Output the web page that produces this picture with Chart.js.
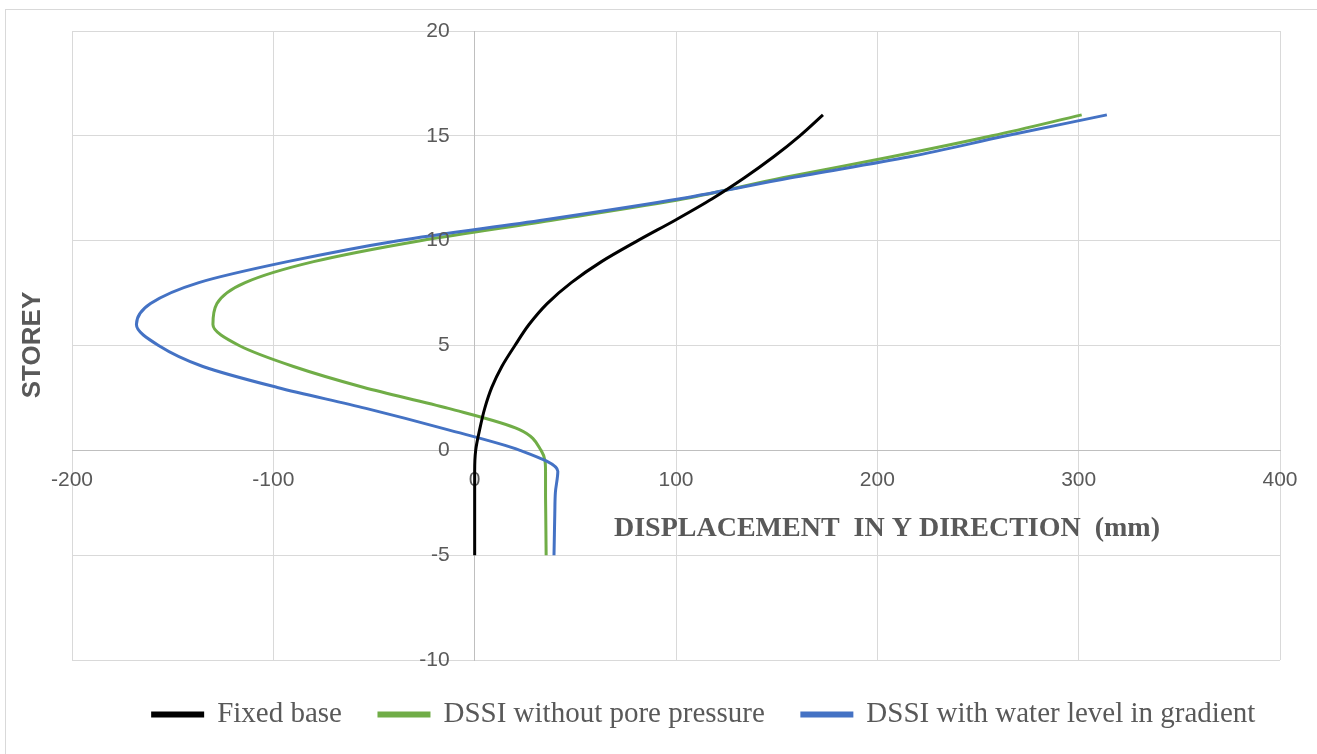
<!DOCTYPE html>
<html>
<head>
<meta charset="utf-8">
<script src="https://cdn.jsdelivr.net/npm/chart.js@4.4.1/dist/chart.umd.min.js"></script>
<style>
  html, body { margin: 0; padding: 0; background: #fff; overflow: hidden; }
  #wrap { position: relative; width: 1317px; height: 754px; }
  #frame { position: absolute; left: 5px; top: 9px; width: 1330px; height: 760px; border: 1px solid #d9d9d9; }
  #chart { position: absolute; left: 0; top: 0; }
</style>
</head>
<body>
<div id="wrap">
  <div id="frame"></div>
  <canvas id="chart" width="1317" height="754"></canvas>
</div>
<script>
// storey levels
const storeys = [-5, -4, -3, -2, -1, 0, 1, 2, 3, 4, 5, 6, 7, 8, 9, 10, 11, 12, 13, 14, 15, 16]

// displacement in y direction (mm) at each storey
const fixedBase = [0, 0, 0, 0, 0, 0.5, 2.5, 5, 8.5, 13.5, 20, 27, 36, 48, 63, 81, 100, 118, 134, 148.5, 161.5, 173]
const dssiNoPore = [35.5, 35.4, 35.3, 35.2, 35.2, 33, 22, -13, -55, -90, -117, -130, -128, -114, -80, -27, 40, 104, 153, 207, 257, 301.5]
const dssiWater = [39.4, 39.6, 39.8, 40.1, 41.3, 22.5, -14, -54, -98, -135, -157, -168, -161, -137, -93, -38, 35, 102, 157, 216, 264, 314]

const seriesNames = ["Fixed base", "DSSI without pore pressure", "DSSI with water level in gradient"]
const seriesColors = ["#000000", "#70ad47", "#4472c4"]

const xTitle = "DISPLACEMENT  IN Y DIRECTION  (mm)"
const yTitle = "STOREY"

function toPoints(values){
    let pts = []
    for (let i = 0; i < storeys.length; i++){
        pts.push({x: values[i], y: storeys[i]})
    }
    return pts
}

function make_dataset(label, values, color, order){
    return {
        label: label,
        data: toPoints(values),
        borderColor: color,
        backgroundColor: color,
        borderWidth: 3,
        pointRadius: 0,
        showLine: true,
        cubicInterpolationMode: "monotone",
        order: order
    }
}

// axis titles and the storey labels sit away from the crossing axes, so they are drawn here
const axisText = {
    id: "axisText",
    afterDraw(chart){
        const ctx = chart.ctx
        const xs = chart.scales.x
        const ys = chart.scales.y
        ctx.save()
        ctx.fillStyle = "#595959"
        ctx.textBaseline = "middle"

        ctx.textAlign = "right"
        ctx.font = "21px 'Liberation Sans'"
        const x0 = xs.getPixelForValue(0) - 25
        for (const t of ys.ticks) {
            ctx.fillText(t.label, x0, ys.getPixelForValue(t.value))
        }

        ctx.textAlign = "center"
        ctx.font = "bold 28px 'Liberation Serif'"
        ctx.fillText(xTitle, 887, 529)
        ctx.translate(33, 345)
        ctx.rotate(-Math.PI / 2)
        ctx.font = "bold 26px 'Liberation Sans'"
        ctx.fillText(yTitle, 0, 0)
        ctx.restore()
    }
}

const legendShift = {
    id: "legendShift",
    afterLayout(chart){
        chart.legend.left += 28
        chart.legend.right += 28
        chart.legend.top += 3
        chart.legend.bottom += 3
    }
}

const tickFont = {family: "'Liberation Sans'", size: 21}

new Chart(document.querySelector("#chart"), {
    type: "scatter",
    data: {
        datasets: [
            make_dataset(seriesNames[0], fixedBase, seriesColors[0], 0),
            make_dataset(seriesNames[1], dssiNoPore, seriesColors[1], 2),
            make_dataset(seriesNames[2], dssiWater, seriesColors[2], 1)
        ]
    },
    options: {
        responsive: false,
        animation: false,
        indexAxis: "y",
        layout: {padding: {left: 72, right: 37, top: 31, bottom: 18}},
        scales: {
            x: {
                type: "linear",
                min: -200,
                max: 400,
                position: {y: 0},
                ticks: {stepSize: 100, color: "#595959", font: tickFont, padding: 17, maxRotation: 0},
                grid: {color: "#d9d9d9", lineWidth: 1, drawTicks: false},
                border: {color: "#bfbfbf", width: 1}
            },
            y: {
                type: "linear",
                min: -10,
                max: 20,
                position: {x: 0},
                ticks: {stepSize: 5, display: false},
                grid: {color: "#d9d9d9", lineWidth: 1, drawTicks: false},
                border: {color: "#bfbfbf", width: 1}
            }
        },
        plugins: {
            legend: {
                position: "bottom",
                labels: {
                    boxWidth: 50,
                    boxHeight: 3,
                    padding: 37,
                    color: "#595959",
                    font: {family: "'Liberation Serif'", size: 29},
                    sort: (a, b) => a.datasetIndex - b.datasetIndex
                }
            },
            tooltip: {enabled: false}
        }
    },
    plugins: [axisText, legendShift]
})
</script>
</body>
</html>
